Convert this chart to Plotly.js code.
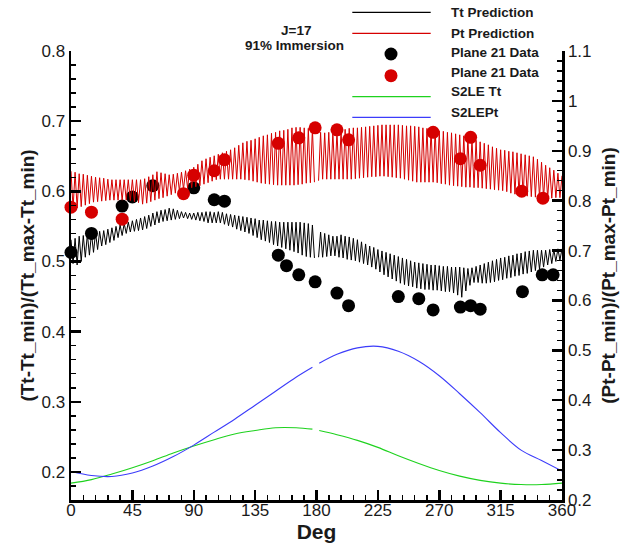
<!DOCTYPE html>
<html>
<head>
<meta charset="utf-8">
<script src="https://cdn.plot.ly/plotly-3.0.1.min.js"></script>
<style>html,body{margin:0;padding:0;background:#fff;}#chart{width:628px;height:546px;}</style>
</head>
<body>
<div id="chart"></div>
<script>
// ---- Data ----
// Tt prediction (left axis), one value every 1.5 deg starting at 0 (gap at 180)
const ttPrediction = [
.531,.497,.533,.495,.536,.500,.537,.506,.539,.509,
.540,.513,.541,.517,.543,.522,.544,.524,.546,.527,
.548,.530,.550,.534,.552,.537,.554,.540,.556,.542,
.558,.543,.560,.544,.562,.545,.564,.547,.566,.550,
.569,.552,.571,.555,.573,.557,.574,.558,.576,.559,
.575,.560,.573,.561,.571,.562,.570,.561,.569,.560,
.569,.559,.570,.558,.570,.557,.571,.555,.571,.555,
.570,.555,.571,.555,.570,.553,.568,.551,.567,.549,
.566,.546,.565,.544,.564,.542,.563,.540,.562,.537,
.561,.534,.559,.531,.559,.529,.558,.527,.557,.524,
.557,.522,.556,.520,.556,.518,.556,.516,.556,.514,
.556,.512,.556,.509,.555,.507,.554,.506,.552,.505,
null,.506,.542,.506,.540,.507,.538,.508,.536,.508,
.536,.506,.538,.505,.536,.503,.535,.502,.533,.501,
.531,.499,.528,.497,.525,.495,.522,.492,.520,.489,
.517,.485,.515,.481,.513,.478,.511,.475,.509,.472,
.507,.469,.505,.467,.503,.465,.501,.464,.499,.462,
.498,.461,.497,.460,.496,.460,.495,.459,.495,.459,
.494,.458,.493,.457,.493,.457,.492,.455,.492,.452,
.492,.449,.491,.458,.490,.466,.491,.470,.493,.470,
.495,.469,.497,.469,.499,.470,.501,.471,.503,.473,
.505,.474,.506,.476,.508,.477,.509,.479,.511,.480,
.512,.482,.514,.483,.515,.485,.516,.487,.516,.489,
.516,.492,.516,.495,.517,.497,.517,.500,.518,.502,
.518];
// Pt prediction (right axis), one value every 1.5 deg starting at 0 (gap at 180)
const ptPrediction = [
.859,.785,.857,.785,.854,.788,.853,.791,.851,.794,
.849,.797,.847,.798,.846,.799,.845,.800,.843,.801,
.842,.801,.842,.801,.842,.801,.842,.801,.842,.800,
.842,.798,.842,.796,.842,.793,.844,.795,.848,.798,
.852,.801,.858,.804,.856,.806,.854,.809,.852,.812,
.853,.815,.855,.819,.857,.823,.860,.825,.863,.826,
.867,.828,.873,.830,.880,.833,.884,.836,.887,.839,
.890,.842,.893,.843,.896,.843,.899,.843,.902,.843,
.906,.843,.911,.843,.916,.842,.919,.841,.921,.839,
.924,.837,.927,.835,.930,.834,.932,.833,.935,.832,
.937,.831,.940,.831,.941,.831,.943,.831,.946,.831,
.947,.832,.947,.833,.946,.835,.945,.836,.944,.837,
null,.840,.937,.843,.936,.843,.937,.843,.938,.843,
.939,.843,.941,.843,.943,.843,.945,.843,.946,.844,
.946,.845,.947,.846,.948,.847,.949,.848,.950,.848,
.951,.849,.952,.849,.952,.848,.952,.847,.952,.846,
.952,.845,.951,.843,.950,.841,.950,.839,.949,.837,
.948,.837,.946,.837,.945,.837,.943,.837,.942,.836,
.940,.834,.939,.833,.937,.831,.936,.830,.934,.829,
.932,.828,.930,.827,.927,.827,.924,.826,.921,.826,
.918,.825,.915,.824,.912,.823,.908,.822,.905,.821,
.902,.820,.901,.818,.899,.815,.898,.813,.896,.811,
.894,.810,.892,.809,.890,.808,.888,.807,.883,.806,
.877,.806,.871,.805,.866,.805,.861,.806,.855,.806,
.850];

// Plane 21 data, Tt (left axis)
const ttDataDeg = [0,15,37.5,45,60,90,105,112.5,152,158,167,179,195,203.5,240,255,265.5,285.5,293,300,331,345.5,353.5];
const ttDataVal = [.513,.540,.579,.592,.608,.605,.588,.586,.509,.494,.481,.471,.455,.437,.450,.447,.431,.435,.437,.432,.457,.481,.481];
// Plane 21 data, Pt (right axis)
const ptDataDeg = [0,15,37.5,82.5,90,105,112.5,152,167,179,195,203.5,265.5,285.5,293,300,330.5,346];
const ptDataVal = [.787,.777,.763,.814,.851,.860,.882,.915,.926,.946,.942,.922,.937,.884,.927,.871,.819,.805];

// S2LE curves
const s2leDeg = [0,15,30,45,60,75,90,105,120,135,150,165,177,179.5,182,195,210,225,240,255,270,285,300,315,330,345,360];
const s2leTt  = [.184,.189,.197,.206,.216,.227,.237,.246,.254,.259,.263,.263,.261,null,.259,.253,.245,.235,.223,.212,.202,.194,.188,.184,.182,.182,.184];
const s2lePt  = [.257,.249,.247,.254,.268,.287,.310,.336,.362,.390,.418,.446,.466,null,.474,.492,.505,.508,.498,.478,.449,.413,.375,.335,.300,.279,.258];

const xTicks = [0,45,90,135,180,225,270,315,360];

// ---- Styling ----
const FONT = 'Liberation Sans, Arial, Helvetica, sans-serif';
const RED = 'rgb(214,0,0)';
const GREEN = 'rgb(30,210,30)';
const BLUE = 'rgb(60,60,250)';

const traces = [
  {type:'scatter', mode:'lines', y:ttPrediction, x0:0, dx:1.5, yaxis:'y',
   line:{color:'#000', width:1}, name:'Tt Prediction'},
  {type:'scatter', mode:'lines', y:ptPrediction, x0:0, dx:1.5, yaxis:'y2',
   line:{color:RED, width:1}, name:'Pt Prediction'},
  {type:'scatter', mode:'lines', x:s2leDeg, y:s2leTt, yaxis:'y',
   line:{color:GREEN, width:1.1, shape:'spline', smoothing:1}, name:'S2LE Tt'},
  {type:'scatter', mode:'lines', x:s2leDeg, y:s2lePt, yaxis:'y2',
   line:{color:BLUE, width:1.1, shape:'spline', smoothing:1}, name:'S2LEPt'},
  {type:'scatter', mode:'markers', x:ttDataDeg, y:ttDataVal, yaxis:'y', cliponaxis:false,
   marker:{color:'#000', size:13, line:{width:0}}, name:'Plane 21 Data'},
  {type:'scatter', mode:'markers', x:ptDataDeg, y:ptDataVal, yaxis:'y2', cliponaxis:false,
   marker:{color:RED, size:13, line:{width:0}}, name:'Plane 21 Data'}
];

// plot area in pixels: x 71..562, y 51..500
const L = 71, W = 491, T = 51, H = 449;
const px = v => (v - L) / W;
const py = v => (T + H - v) / H;

const axisCommon = {
  showline:true, linewidth:2.5, linecolor:'#000',
  ticks:'inside', ticklen:10, tickwidth:2.5, tickcolor:'#000',
  showgrid:false, zeroline:false, automargin:false,
  tickfont:{family:FONT, size:17, color:'#1a1a1a'}
};

const legendRows = [
  {label:'Tt Prediction', kind:'line', color:'#000', y:12.3, ty:12.8},
  {label:'Pt Prediction', kind:'line', color:RED, y:33.3, ty:33.3},
  {label:'Plane 21 Data', kind:'dot', color:'#000', y:54, ty:52.5},
  {label:'Plane 21 Data', kind:'dot', color:RED, y:75.7, ty:72.5},
  {label:'S2LE Tt', kind:'line', color:GREEN, y:96.7, ty:91.5},
  {label:'S2LEPt', kind:'line', color:BLUE, y:117.3, ty:112}
];

const shapes = [];
const annotations = [];
legendRows.forEach(r => {
  if (r.kind === 'line') {
    shapes.push({type:'line', xref:'paper', yref:'paper', x0:px(352.3), x1:px(430.7), y0:py(r.y), y1:py(r.y),
      line:{color:r.color, width:1.3}});
  } else {
    shapes.push({type:'circle', xref:'paper', yref:'paper', xsizemode:'pixel', ysizemode:'pixel',
      xanchor:px(391), yanchor:py(r.y), x0:-6.5, x1:6.5, y0:-6.5, y1:6.5,
      fillcolor:r.color, line:{width:0}});
  }
  annotations.push({xref:'paper', yref:'paper', x:px(449), y:py(r.ty), xanchor:'left', yanchor:'middle',
    showarrow:false, text:r.label, font:{family:FONT, size:13.5, weight:'bold', color:'#1a1a1a'}});
});
annotations.push({xref:'paper', yref:'paper', x:px(296), y:py(31), xanchor:'center', yanchor:'middle',
  showarrow:false, text:'J=17', font:{family:FONT, size:13.5, weight:'bold', color:'#1a1a1a'}});
annotations.push({xref:'paper', yref:'paper', x:px(294), y:py(46), xanchor:'center', yanchor:'middle',
  showarrow:false, text:'91% Immersion', font:{family:FONT, size:13.5, weight:'bold', color:'#1a1a1a'}});

const layout = {
  width:628, height:546,
  margin:{l:71, r:66, t:51, b:46, pad:0},
  paper_bgcolor:'#fff', plot_bgcolor:'#fff',
  showlegend:false,
  font:{family:FONT, color:'#1a1a1a'},
  xaxis:Object.assign({}, axisCommon, {
    range:[0,360], tickmode:'array', tickvals:xTicks, ticktext:xTicks.map(String),
    ticklabelstandoff:-7,
    minor:{dtick:9, tick0:0, ticks:'inside', ticklen:5, tickwidth:1.5, tickcolor:'#000', showgrid:false},
    title:{text:'Deg', font:{family:FONT, size:21, weight:'bold', color:'#1a1a1a'}, standoff:6}
  }),
  yaxis:Object.assign({}, axisCommon, {
    range:[0.16,0.8], tick0:0, dtick:0.1,
    minor:{dtick:0.02, tick0:0, ticks:'inside', ticklen:5, tickwidth:1.5, tickcolor:'#000', showgrid:false},
    title:{text:'(Tt-Tt_min)/(Tt_max-Tt_min)', font:{family:FONT, size:19, weight:'bold', color:'#1a1a1a'}, standoff:2}
  }),
  yaxis2:Object.assign({}, axisCommon, {
    overlaying:'y', side:'right', range:[0.2,1.1], tick0:0, dtick:0.1,
    minor:{dtick:0.02, tick0:0, ticks:'inside', ticklen:5, tickwidth:1.5, tickcolor:'#000', showgrid:false},
    title:{text:'(Pt-Pt_min)/(Pt_max-Pt_min)', font:{family:FONT, size:19, weight:'bold', color:'#1a1a1a'}, standoff:11}
  }),
  shapes:shapes,
  annotations:annotations
};

Plotly.newPlot('chart', traces, layout, {displayModeBar:false, staticPlot:true});
</script>
</body>
</html>
